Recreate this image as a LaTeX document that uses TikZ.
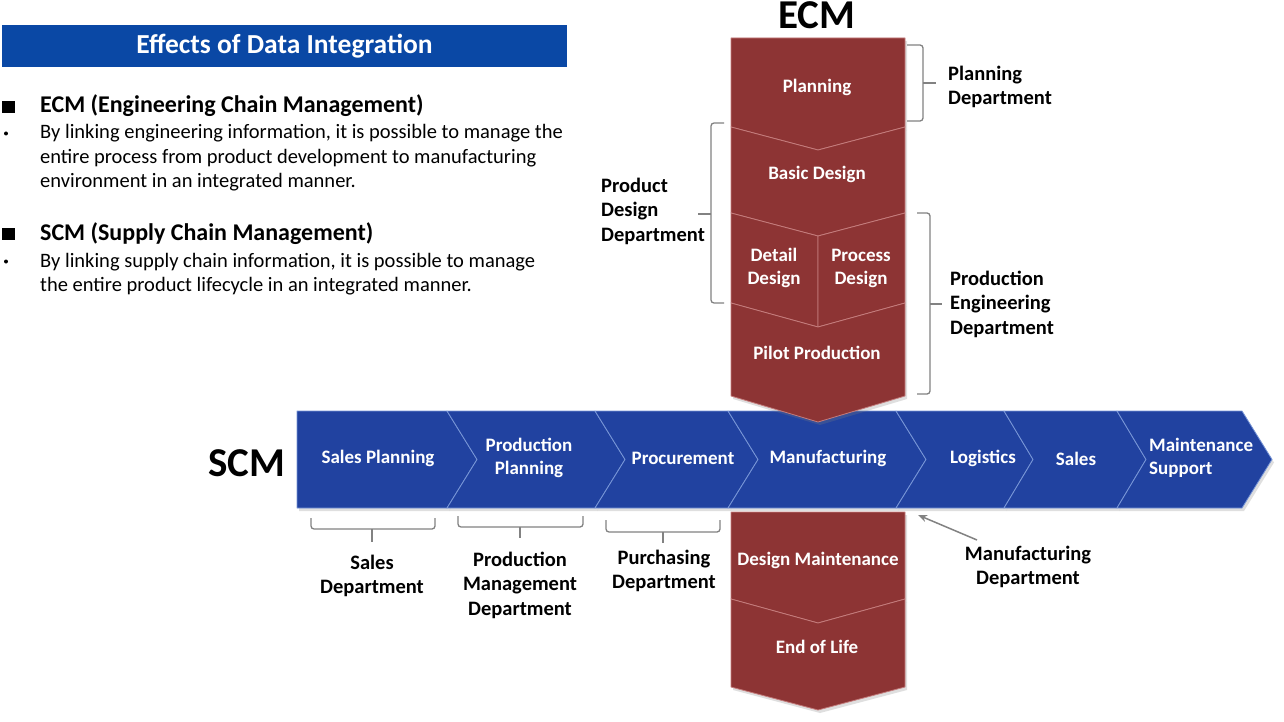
\documentclass[tikz,border=0pt]{standalone}
\usepackage{fontspec}
\setmainfont{Carlito}
\usetikzlibrary{arrows.meta,shadows}
\definecolor{ecmred}{RGB}{141,52,52}
\definecolor{ecmedge}{RGB}{196,124,124}
\definecolor{scmblue}{RGB}{33,66,160}
\definecolor{scmedge}{RGB}{120,150,215}
\definecolor{titleblue}{RGB}{10,72,165}
\definecolor{brk}{RGB}{130,130,130}
\begin{document}
\begin{tikzpicture}[x=1pt,y=-1pt,
  redseg/.style={fill=ecmred, draw=ecmedge, line width=0.8pt, line join=round,
     drop shadow={opacity=0.25,shadow xshift=2pt,shadow yshift=-3pt}},
  blueseg/.style={fill=scmblue, draw=scmedge, line width=0.8pt, line join=round,
     drop shadow={opacity=0.25,shadow xshift=2pt,shadow yshift=-3pt}},
  boxlbl/.style={text=white, font=\bfseries\fontsize{19}{23}\selectfont, align=center, inner sep=0pt},
  deptlbl/.style={text=black, font=\bfseries\fontsize{20.5}{24.5}\selectfont, inner sep=0pt},
  bodytxt/.style={text=black, font=\fontsize{20.5}{24.5}\selectfont, inner sep=0pt, align=left},
  headtxt/.style={text=black, font=\bfseries\fontsize{24}{28}\selectfont, inner sep=0pt},
  brace/.style={draw=brk, line width=1.3pt, rounded corners=3pt},
  tick/.style={draw=brk, line width=1.3pt},
  bigtxt/.style={text=black, font=\bfseries\fontsize{41}{44}\selectfont, inner sep=0pt}
]
\useasboundingbox[fill=white] (0,0) rectangle (1284,722);

% ---------- left text ----------
\fill[titleblue] (2,25) rectangle (567,67);
\node[text=white, font=\bfseries\fontsize{27.5}{30}\selectfont, inner sep=0pt] (title) at (284.5,46) {Effects of Data Integration};

\fill[black] (2,101) rectangle (15,113);
\node[headtxt, anchor=base west] (h1) at (40,113) {ECM (Engineering Chain Management)};
\fill[black] (6,133.5) circle (2pt);
\node[bodytxt, anchor=base west] (t1a) at (40,139) {By linking engineering information, it is possible to manage the};
\node[bodytxt, anchor=base west] (t1b) at (40,163.5) {entire process from product development to manufacturing};
\node[bodytxt, anchor=base west] (t1c) at (40,188) {environment in an integrated manner.};

\fill[black] (2,228) rectangle (15,240);
\node[headtxt, anchor=base west] (h2) at (40,240) {SCM (Supply Chain Management)};
\fill[black] (6,261.5) circle (2pt);
\node[bodytxt, anchor=base west] (t2a) at (40,267) {By linking supply chain information, it is possible to manage};
\node[bodytxt, anchor=base west] (t2b) at (40,291.5) {the entire product lifecycle in an integrated manner.};

% ---------- SCM bar ----------
\path[blueseg] (297,411) -- (447,411) -- (477,459.5) -- (447,508) -- (297,508) -- cycle;
\path[blueseg] (447,411) -- (595,411) -- (625,459.5) -- (595,508) -- (447,508) -- (477,459.5) -- cycle;
\path[blueseg] (595,411) -- (728,411) -- (758,459.5) -- (728,508) -- (595,508) -- (625,459.5) -- cycle;
\path[blueseg] (728,411) -- (896,411) -- (926,459.5) -- (896,508) -- (728,508) -- (758,459.5) -- cycle;
\path[blueseg] (896,411) -- (1004,411) -- (1033,459.5) -- (1004,508) -- (896,508) -- (926,459.5) -- cycle;
\path[blueseg] (1004,411) -- (1117,411) -- (1146,459.5) -- (1117,508) -- (1004,508) -- (1033,459.5) -- cycle;
\path[blueseg] (1117,411) -- (1242,411) -- (1272,459.5) -- (1242,508) -- (1117,508) -- (1146,459.5) -- cycle;

\node[boxlbl] (s1) at (378,458) {Sales Planning};
\node[boxlbl] (s2) at (529,458) {Production\\Planning};
\node[boxlbl] (s3) at (683,458) {Procurement};
\node[boxlbl] (s4) at (828,458) {Manufacturing};
\node[boxlbl] (s5) at (983,458) {Logistics};
\node[boxlbl] (s6) at (1076,459) {Sales};
\node[boxlbl, align=left, anchor=west] (s7) at (1149,458) {Maintenance\\Support};

% ---------- ECM column ----------
\path[redseg] (731,38) -- (905,38) -- (905,127) -- (818,150) -- (731,127) -- cycle;
\path[redseg] (731,127) -- (818,150) -- (905,127) -- (905,213) -- (818,236) -- (731,213) -- cycle;
\path[redseg] (731,213) -- (818,236) -- (818,327) -- (731,303) -- cycle;
\path[redseg] (818,236) -- (905,213) -- (905,303) -- (818,327) -- cycle;
\path[redseg] (731,303) -- (818,327) -- (905,303) -- (905,396) -- (818,422) -- (731,396) -- cycle;

\path[redseg] (731,512) -- (905,512) -- (905,599) -- (818,623) -- (731,599) -- cycle;
\path[redseg] (731,599) -- (818,623) -- (905,599) -- (905,687) -- (818,710) -- (731,687) -- cycle;

\node[boxlbl] (e1) at (817,87) {Planning};
\node[boxlbl] (e2) at (817,174) {Basic Design};
\node[boxlbl] (e3) at (774,268) {Detail\\Design};
\node[boxlbl] (e4) at (861,268) {Process\\Design};
\node[boxlbl] (e5) at (817,353) {Pilot Production};
\node[boxlbl] (e6) at (818,560) {Design Maintenance};
\node[boxlbl] (e7) at (817,647) {End of Life};

\node[bigtxt] (ecm) at (817,15.5) {ECM};
\node[bigtxt] (scm) at (247,463) {SCM};

% ---------- brackets ----------
\path[brace] (907,45) -| (923,121) -- (907,121);
\path[tick] (923,83) -- (936,83);
\node[deptlbl, align=left, anchor=west] (d1) at (948,87) {Planning\\Department};

\path[brace] (917,213) -| (930,394) -- (917,394);
\path[tick] (930,304) -- (942,304);
\node[deptlbl, align=left, anchor=west] (d2) at (950,304) {Production\\Engineering\\Department};

\path[brace] (724,123) -| (711,303) -- (724,303);
\path[tick] (711,214) -- (698,214);
\node[deptlbl, align=left, anchor=west] (d3) at (601,211) {Product\\Design\\Department};

\path[brace] (311,518) |- (435,529) -- (435,518);
\path[tick] (372,529) -- (372,542);
\node[deptlbl, align=center] (d4) at (372,576) {Sales\\Department};

\path[brace] (458,516) |- (583,527) -- (583,516);
\path[tick] (520,527) -- (520,538);
\node[deptlbl, align=center] (d5) at (520,585) {Production\\Management\\Department};

\path[brace] (606,520) |- (720,532) -- (720,520);
\path[tick] (663,532) -- (663,543);
\node[deptlbl, align=center] (d6) at (664,571) {Purchasing\\Department};

\node[deptlbl, align=center] (d7) at (1028,567) {Manufacturing\\Department};
\coordinate (mfgfrom) at (977,540);
\coordinate (mfgto) at (918,515);
\draw[brk, line width=1.5pt, -{Stealth[length=9pt,width=7pt]}] (mfgfrom) -- (mfgto);
\end{tikzpicture}
\end{document}
